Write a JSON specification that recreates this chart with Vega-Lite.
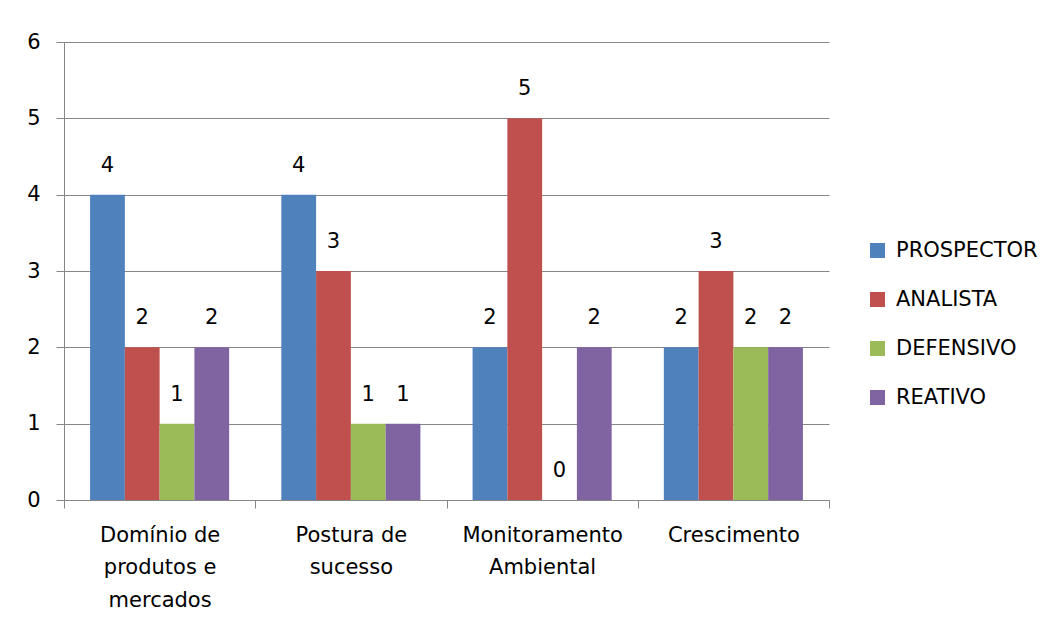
{
  "$schema": "https://vega.github.io/schema/vega-lite/v6.json",
  "width": 765,
  "height": 458,
  "autosize": "none",
  "padding": {"left": 64, "top": 42, "right": 221, "bottom": 124},
  "background": "white",
  "config": {
    "font": "DejaVu Sans",
    "view": {"stroke": null}
  },
  "data": {
    "values": [
      {"categoria": "Domínio de produtos e mercados", "perfil": "PROSPECTOR", "valor": 4},
      {"categoria": "Domínio de produtos e mercados", "perfil": "ANALISTA", "valor": 2},
      {"categoria": "Domínio de produtos e mercados", "perfil": "DEFENSIVO", "valor": 1},
      {"categoria": "Domínio de produtos e mercados", "perfil": "REATIVO", "valor": 2},
      {"categoria": "Postura de sucesso", "perfil": "PROSPECTOR", "valor": 4},
      {"categoria": "Postura de sucesso", "perfil": "ANALISTA", "valor": 3},
      {"categoria": "Postura de sucesso", "perfil": "DEFENSIVO", "valor": 1},
      {"categoria": "Postura de sucesso", "perfil": "REATIVO", "valor": 1},
      {"categoria": "Monitoramento Ambiental", "perfil": "PROSPECTOR", "valor": 2},
      {"categoria": "Monitoramento Ambiental", "perfil": "ANALISTA", "valor": 5},
      {"categoria": "Monitoramento Ambiental", "perfil": "DEFENSIVO", "valor": 0},
      {"categoria": "Monitoramento Ambiental", "perfil": "REATIVO", "valor": 2},
      {"categoria": "Crescimento", "perfil": "PROSPECTOR", "valor": 2},
      {"categoria": "Crescimento", "perfil": "ANALISTA", "valor": 3},
      {"categoria": "Crescimento", "perfil": "DEFENSIVO", "valor": 2},
      {"categoria": "Crescimento", "perfil": "REATIVO", "valor": 2}
    ]
  },
  "encoding": {
    "x": {
      "field": "categoria",
      "type": "nominal",
      "sort": ["Domínio de produtos e mercados", "Postura de sucesso", "Monitoramento Ambiental", "Crescimento"],
      "scale": {"paddingInner": 0, "paddingOuter": 0},
      "axis": {
        "title": null,
        "labelAngle": 0,
        "tickBand": "extent",
        "domainColor": "#868686",
        "tickColor": "#868686",
        "tickSize": 8,
        "labelFont": "DejaVu Sans",
        "labelFontSize": 21,
        "labelColor": "#000000",
        "labelBaseline": "top",
        "labelPadding": 16,
        "labelLineHeight": 32.5,
        "labelExpr": "datum.value == 'Domínio de produtos e mercados' ? ['Domínio de', 'produtos e', 'mercados'] : datum.value == 'Postura de sucesso' ? ['Postura de', 'sucesso'] : datum.value == 'Monitoramento Ambiental' ? ['Monitoramento', 'Ambiental'] : datum.value"
      }
    },
    "xOffset": {
      "field": "perfil",
      "sort": ["PROSPECTOR", "ANALISTA", "DEFENSIVO", "REATIVO"],
      "scale": {"paddingInner": 0, "paddingOuter": 0.75}
    },
    "y": {
      "field": "valor",
      "type": "quantitative",
      "scale": {"domain": [0, 6], "nice": false},
      "axis": {
        "title": null,
        "values": [0, 1, 2, 3, 4, 5, 6],
        "grid": true,
        "gridColor": "#868686",
        "gridWidth": 1,
        "domainColor": "#868686",
        "tickColor": "#868686",
        "tickSize": 8,
        "labelFont": "DejaVu Sans",
        "labelFontSize": 21,
        "labelColor": "#000000",
        "labelPadding": 16
      }
    }
  },
  "layer": [
    {
      "mark": {"type": "bar"},
      "encoding": {
        "color": {
          "field": "perfil",
          "type": "nominal",
          "sort": ["PROSPECTOR", "ANALISTA", "DEFENSIVO", "REATIVO"],
          "scale": {"range": ["#4F81BD", "#C0504D", "#9BBB59", "#8064A2"]},
          "legend": {
            "title": null,
            "orient": "none",
            "legendX": 803,
            "legendY": 198,
            "padding": 0,
            "symbolType": "square",
            "symbolSize": 225,
            "symbolStrokeWidth": 0,
            "labelFont": "DejaVu Sans",
            "labelFontSize": 21,
            "labelColor": "#000000",
            "labelOffset": 8,
            "rowPadding": 27
          }
        }
      }
    },
    {
      "mark": {"type": "text", "dy": -29, "fontSize": 21, "font": "DejaVu Sans", "color": "#000000", "baseline": "middle"},
      "encoding": {
        "text": {"field": "valor", "type": "quantitative"}
      }
    }
  ]
}
